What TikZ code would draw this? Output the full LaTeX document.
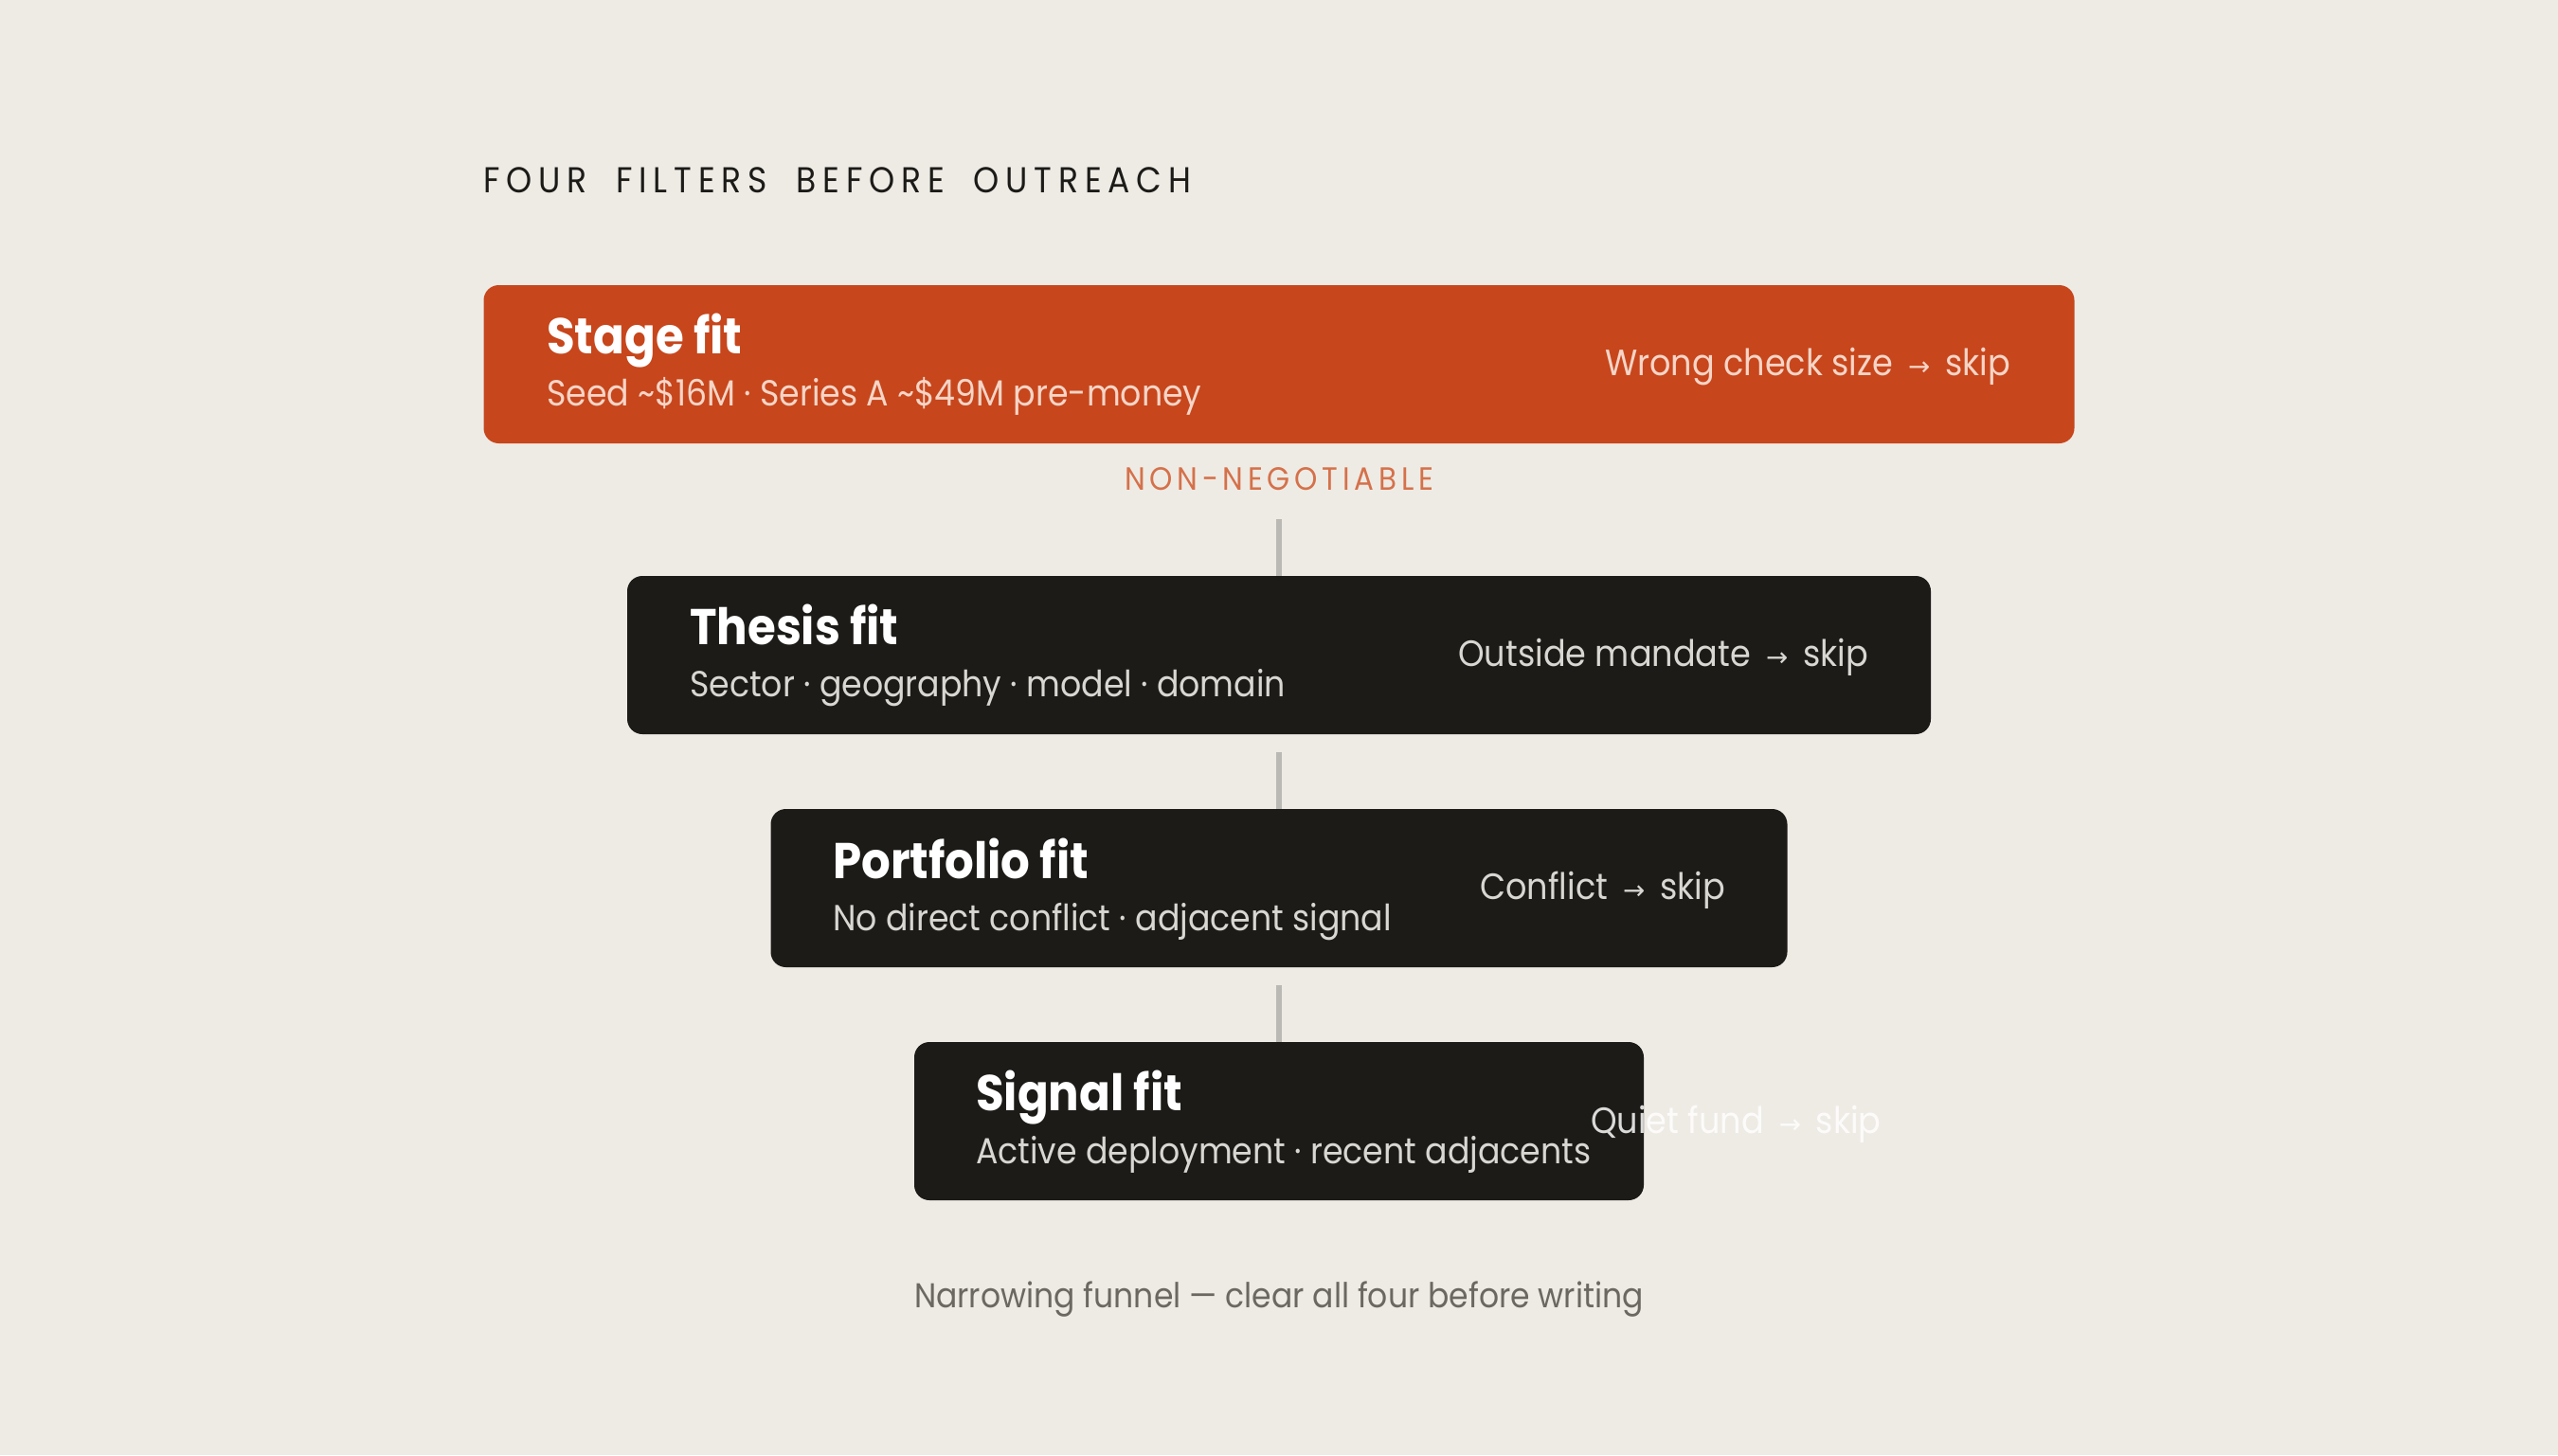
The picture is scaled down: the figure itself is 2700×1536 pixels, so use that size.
\documentclass[tikz,border=0pt]{standalone}
\usepackage{fontspec}
\setmainfont{Poppins}[FakeStretch=0.91]
\newfontfamily\trka{Poppins}[FakeStretch=0.91,LetterSpace=18,WordSpace=1.9]
\newfontfamily\trkb{Poppins}[FakeStretch=0.91,LetterSpace=14]
\newfontfamily\arrf{DejaVu Sans}
\definecolor{bgc}{HTML}{EEEBE5}
\definecolor{rust}{HTML}{C7461C}
\definecolor{ink}{HTML}{1C1B18}
\definecolor{pinkt}{HTML}{F6D5C7}
\definecolor{greyt}{HTML}{D9D7D2}
\definecolor{negc}{HTML}{D5714A}
\definecolor{connc}{HTML}{BBB9B3}
\definecolor{footc}{HTML}{6B6862}
\newcommand\getsize[4]{\setbox0=\hbox{#2\fontsize{100pt}{100pt}\selectfont #4}\pgfmathsetmacro#1{#3/\the\wd0*100}}
\newcommand\sz[1]{\fontsize{#1pt}{#1pt}\selectfont}
\newcommand\ar{\,\scalebox{0.72}{\arrf →}\,}
\begin{document}%
\getsize{\Sttl}{\bfseries}{270}{Portfolio fit}%
\getsize{\Ssub}{}{2559}{Seed \textasciitilde\$16M · Series A \textasciitilde\$49M pre-moneySector · geography · model · domainNo direct conflict · adjacent signalActive deployment · recent adjacents}%
\getsize{\Srt}{}{1425}{Wrong check size \ar{} skipOutside mandate \ar{} skipConflict \ar{} skipQuiet fund \ar{} skip}%
\getsize{\Shead}{\trka}{747}{FOUR FILTERS BEFORE OUTREACH}%
\getsize{\Sneg}{\trkb}{326}{NON-NEGOTIABLE}%
\getsize{\Sfoot}{}{770}{Narrowing funnel — clear all four before writing}%
\begin{tikzpicture}[x=1pt,y=-1pt,
  card/.style={rectangle, rounded corners=16pt, minimum height=167pt, inner sep=0pt, draw=none},
  ttl/.style={anchor=base west, inner sep=0pt, text=white},
  sub/.style={anchor=base west, inner sep=0pt},
  rt/.style={anchor=base east, inner sep=0pt},
  conn/.style={draw=connc, line width=6pt}]
\useasboundingbox (0,0) rectangle (2700,1536);
\fill[bgc] (0,0) rectangle (2700,1536);

\node[anchor=base west, inner sep=0pt, text=ink, font=\trka\sz{\Shead}] (head) at (510,203) {FOUR FILTERS BEFORE OUTREACH};

% Stage
\node[card, fill=rust, minimum width=1679pt] (stage) at (1350,384.5) {};
\node[ttl, font=\bfseries\sz{\Sttl}] (stageT) at (577,373) {Stage fit};
\node[sub, text=pinkt, font=\sz{\Ssub}] (stageS) at (577,428) {Seed \textasciitilde\$16M · Series A \textasciitilde\$49M pre-money};
\node[rt, text=pinkt, font=\sz{\Srt}] (stageR) at (2122,396) {Wrong check size \ar{} skip};

\node[anchor=base, inner sep=0pt, text=negc, font=\trkb\sz{\Sneg}] (neg) at (1350,517) {NON-NEGOTIABLE};

% Thesis
\node[card, fill=ink, minimum width=1376pt] (thesis) at (1350,691.5) {};
\node[ttl, font=\bfseries\sz{\Sttl}] (thesisT) at (728,680) {Thesis fit};
\node[sub, text=greyt, font=\sz{\Ssub}] (thesisS) at (728,735) {Sector · geography · model · domain};
\node[rt, text=greyt, font=\sz{\Srt}] (thesisR) at (1972,703) {Outside mandate \ar{} skip};

% Portfolio
\node[card, fill=ink, minimum width=1073pt] (port) at (1350,937.5) {};
\node[ttl, font=\bfseries\sz{\Sttl}] (portT) at (879,927) {Portfolio fit};
\node[sub, text=greyt, font=\sz{\Ssub}] (portS) at (879,982) {No direct conflict · adjacent signal};
\node[rt, text=greyt, font=\sz{\Srt}] (portR) at (1821,949) {Conflict \ar{} skip};

% Signal
\node[card, fill=ink, minimum width=770pt] (signal) at (1350,1183.5) {};
\node[ttl, font=\bfseries\sz{\Sttl}] (sigT) at (1030,1172) {Signal fit};
\node[sub, text=greyt, font=\sz{\Ssub}] (sigS) at (1030,1228) {Active deployment · recent adjacents};
\node[anchor=base west, inner sep=0pt, text=white, text opacity=0.84, font=\sz{\Srt}] (sigR) at (1679,1196) {Quiet fund \ar{} skip};

% connectors
\coordinate (c1) at (1350,548);
\coordinate (c2) at (1350,794);
\coordinate (c3) at (1350,1040);
\draw[conn] (c1) -- (thesis.north);
\draw[conn] (c2) -- (port.north);
\draw[conn] (c3) -- (signal.north);

\node[anchor=base, inner sep=0pt, text=footc, font=\sz{\Sfoot}] (foot) at (1350,1380) {Narrowing funnel — clear all four before writing};
\end{tikzpicture}%
\end{document}
